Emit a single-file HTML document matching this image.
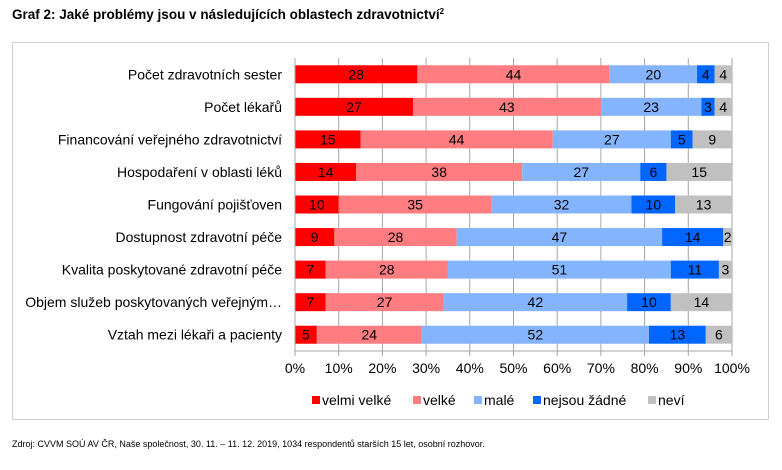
<!DOCTYPE html>
<html><head><meta charset="utf-8"><style>
body{margin:0;background:#fff;width:782px;height:465px;overflow:hidden;font-family:"Liberation Sans",Arial,sans-serif}
</style></head><body>
<svg width="782" height="465" xmlns="http://www.w3.org/2000/svg" font-family="Liberation Sans, Arial, sans-serif">
<text x="12" y="19" font-size="13.5" font-weight="bold" fill="#000">Graf 2: Jaké problémy jsou v následujících oblastech zdravotnictví<tspan font-size="8" dy="-5">2</tspan></text>
<rect x="12.5" y="42.5" width="756" height="377" fill="none" stroke="#d0d0d0"/>
<g id="grid"></g>
<g id="bars"></g>
<g id="axis"></g>
<g id="legend"></g>
<text x="12" y="447" font-size="9" fill="#000">Zdroj: CVVM SOÚ AV ČR, Naše společnost, 30. 11. – 11. 12. 2019, 1034 respondentů starších 15 let, osobní rozhovor.</text>
</svg>
<script>
const categories=["Počet zdravotních sester","Počet lékařů","Financování veřejného zdravotnictví","Hospodaření v oblasti léků","Fungování pojišťoven","Dostupnost zdravotní péče","Kvalita poskytované zdravotní péče","Objem služeb poskytovaných veřejným…","Vztah mezi lékaři a pacienty"];
const velmiVelke=[28,27,15,14,10,9,7,7,5];
const velke=[44,43,44,38,35,28,28,27,24];
const male=[20,23,27,27,32,47,51,42,52];
const nejsouZadne=[4,3,5,6,10,14,11,10,13];
const nevi=[4,4,9,15,13,2,3,14,6];
const seriesNames=["velmi velké","velké","malé","nejsou žádné","neví"];
const ticks=[0,10,20,30,40,50,60,70,80,90,100];
const colors=["#ff0000","#ff7c80","#85b4ff","#0066ff","#c0c0c0"];
const NS="http://www.w3.org/2000/svg";
const x0=295,x1=732,yTop=58,yBot=351;
const xs=v=>x0+(x1-x0)*v/100;
const band=(yBot-yTop)/categories.length;
const yc=i=>yTop+band*(i+0.5);
function mk(tag,attrs,parent,txt){const e=document.createElementNS(NS,tag);for(const k in attrs)e.setAttribute(k,attrs[k]);if(txt!=null)e.textContent=txt;parent.appendChild(e);return e;}
const grid=document.getElementById('grid'),bars=document.getElementById('bars'),axis=document.getElementById('axis'),legend=document.getElementById('legend');
ticks.forEach(t=>{
 const l=mk('line',{x1:xs(t),x2:xs(t),y1:yTop,y2:yBot+5,stroke:'#a6a6a6','stroke-width':1},grid);
 
 
 const tx=mk('text',{x:xs(t),y:yBot+22,'font-size':14,'text-anchor':'middle'},axis,t+'%');
 
 
});
const yl=mk('line',{x1:x0,x2:x0,y1:yTop,y2:yBot,stroke:'#a6a6a6'},axis);


const xl=mk('line',{x1:x0,x2:x1,y1:yBot,y2:yBot,stroke:'#a6a6a6'},axis);


const series=[velmiVelke,velke,male,nejsouZadne,nevi];
categories.forEach((c,i)=>{
 const lab=mk('text',{x:x0-13,y:yc(i)+5,'font-size':14,'text-anchor':'end'},axis,c);
 
 
 let acc=0;
 series.forEach((s,k)=>{
  const v=s[i];
  const r=mk('rect',{x:xs(acc),y:yc(i)-9,width:xs(acc+v)-xs(acc),height:18,fill:colors[k]},bars);
  
  
  const t=mk('text',{x:(xs(acc)+xs(acc+v))/2,y:yc(i)+5,'font-size':14,'text-anchor':'middle'},bars,String(v));
  
  
  acc+=v;
 });
});
const legX=[312,413,474,533,648];
seriesNames.forEach((n,k)=>{
 const g=mk('g',{},legend);
 
 
 mk('rect',{x:legX[k],y:396,width:8,height:8,fill:colors[k]},g);
 mk('text',{x:legX[k]+10,y:405,'font-size':14},g,n);
});
</script>
</body></html>
